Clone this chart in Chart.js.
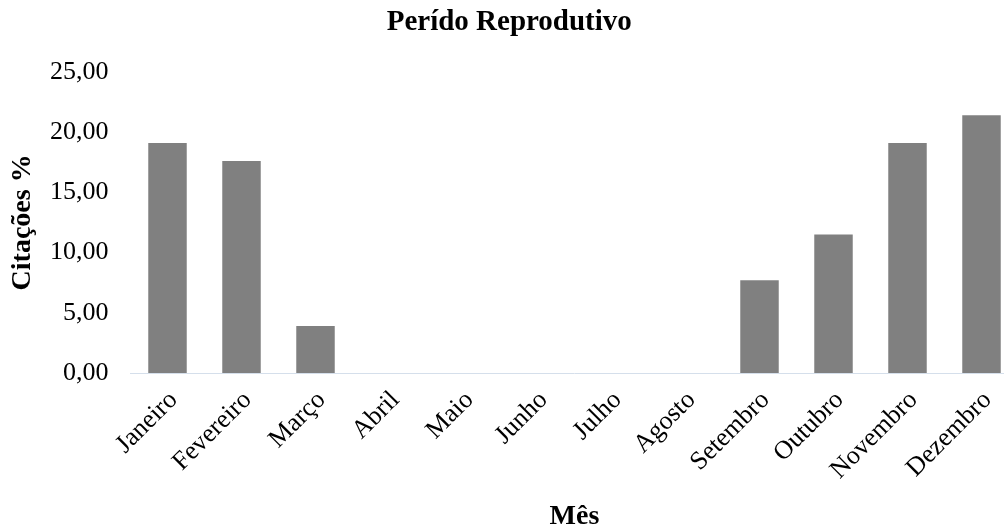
<!DOCTYPE html>
<html>
<head>
<meta charset="utf-8">
<script src="https://cdn.jsdelivr.net/npm/chart.js@4/dist/chart.umd.min.js"></script>
<style>
    body { margin: 0; overflow: hidden; background: #fff; }
    #wrap { width: 1022px; height: 532px; position: relative; }
</style>
</head>
<body>
<div id="wrap"><canvas id="reproChart"></canvas></div>
<script>
// Dados
const months = ["Janeiro", "Fevereiro", "Março", "Abril", "Maio", "Junho",
    "Julho", "Agosto", "Setembro", "Outubro", "Novembro", "Dezembro"];
const citations = [19.1, 17.6, 3.9, 0, 0, 0, 0, 0, 7.7, 11.5, 19.1, 21.4];
const yMin = 0;
const yMax = 25;
const yStep = 5;

const serif = "'Liberation Serif', 'Times New Roman', serif";

const ctx = document.getElementById("reproChart").getContext("2d");

const chart = new Chart(ctx, {
    type: "bar",
    data: {
        labels: months,
        datasets: [{
            label: "Citações %",
            data: citations,
            backgroundColor: "#808080",
            borderWidth: 0,
            categoryPercentage: 1,
            barPercentage: 0.52
        }]
    },
    options: {
        responsive: true,
        maintainAspectRatio: false,
        animation: false,
        layout: { padding: { top: 0, left: 0, right: 3.5, bottom: 0 } },
        plugins: {
            legend: { display: false },
            tooltip: { enabled: false },
            title: {
                display: true,
                text: "Perído Reprodutivo",
                color: "#000",
                font: { family: serif, size: 29, weight: "bold", lineHeight: 1.2 },
                padding: { top: 5, bottom: 32 }
            }
        },
        scales: {
            x: {
                grid: { display: false, drawTicks: false },
                border: { display: true, color: "#d5dfeb", width: 1 },
                ticks: {
                    color: "#000",
                    font: { family: serif, size: 26 },
                    minRotation: 45,
                    maxRotation: 45,
                    padding: 12,
                    labelOffset: 6
                },
                title: {
                    display: true,
                    text: "Mês",
                    color: "#000",
                    font: { family: serif, size: 28, weight: "bold", lineHeight: 1.1 },
                    padding: { top: 0, bottom: 0 }
                },
                afterFit: (scale) => { scale.height = 159; }
            },
            y: {
                min: yMin,
                max: yMax,
                grid: { display: false, drawTicks: false },
                border: { display: false },
                ticks: {
                    stepSize: yStep,
                    color: "#000",
                    font: { family: serif, size: 26 },
                    padding: 22,
                    callback: (v) => v.toFixed(2).replace(".", ",")
                },
                title: {
                    display: true,
                    text: "Citações %",
                    color: "#000",
                    font: { family: serif, size: 28, weight: "bold", lineHeight: 1.2 },
                    padding: { top: 6, bottom: 0 }
                },
                afterFit: (scale) => { scale.width = 130.5; }
            }
        }
    }
});
</script>
</body>
</html>
